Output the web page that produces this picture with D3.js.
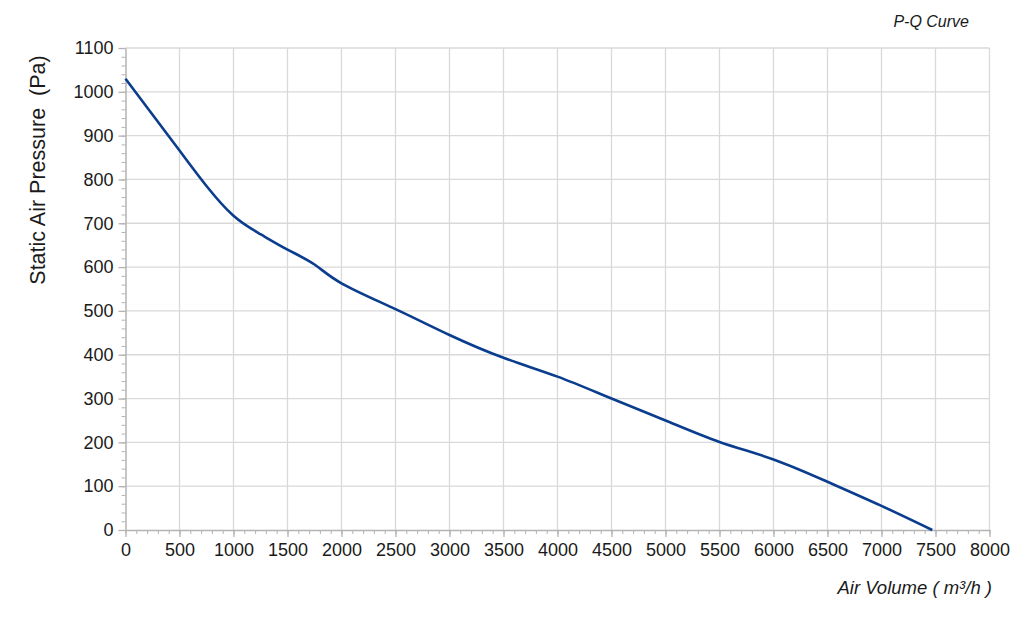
<!DOCTYPE html>
<html>
<head>
<meta charset="utf-8">
<script src="https://cdn.jsdelivr.net/npm/d3@7"></script>
<style>
  body { margin: 0; background: #fff; }
  text { font-family: "Liberation Sans", Arial, sans-serif; fill: #1a1a1a; }
</style>
</head>
<body>
<script>
'use strict';

// air volume (m3/h) and static pressure (Pa)
const airVolume = [0, 500, 750, 1000, 1250, 1500, 1750, 2000, 2500, 3000, 3500, 4000, 4500, 5000, 5500, 6000, 6500, 7000, 7470];
const pressure  = [1030, 866, 785, 717, 675, 640, 606, 563, 504, 445, 393, 350, 300, 250, 201, 161, 110, 55, 0];

const xTicks = d3.range(0, 8001, 500);
const yTicks = d3.range(0, 1101, 100);

const width = 1024, height = 617;
const margin = {left: 125.5, right: 34.5, top: 48, bottom: 87};

let svg = d3.select("body").append("svg")
    .attr("width", width)
    .attr("height", height);

let x = d3.scaleLinear().domain([0, 8000]).range([margin.left, width - margin.right]);
let y = d3.scaleLinear().domain([0, 1100]).range([height - margin.bottom, margin.top]);

// grid
svg.append("g")
  .selectAll("line")
  .data(xTicks.slice(1))
  .enter().append("line")
    .attr("x1", d => x(d)).attr("x2", d => x(d))
    .attr("y1", y(0)).attr("y2", y(1100))
    .attr("stroke", "#d9d9d9").attr("stroke-width", 1.3);

svg.append("g")
  .selectAll("line")
  .data(yTicks.slice(1))
  .enter().append("line")
    .attr("x1", x(0)).attr("x2", x(8000))
    .attr("y1", d => y(d)).attr("y2", d => y(d))
    .attr("stroke", "#d9d9d9").attr("stroke-width", 1.3);

// minor ticks
svg.append("g")
  .attr("transform", "translate(0," + y(0) + ")")
  .call(d3.axisBottom(x).tickValues(d3.range(0, 8001, 100)).tickSize(4).tickFormat(""))
  .call(g => g.select(".domain").remove())
  .call(g => g.selectAll("line").attr("stroke", "#b3b3b3"));

svg.append("g")
  .attr("transform", "translate(" + x(0) + ",0)")
  .call(d3.axisLeft(y).tickValues(d3.range(0, 1101, 20)).tickSize(4).tickFormat(""))
  .call(g => g.select(".domain").remove())
  .call(g => g.selectAll("line").attr("stroke", "#b3b3b3"));

// major axes
let xAxis = svg.append("g")
  .attr("transform", "translate(0," + y(0) + ")")
  .call(d3.axisBottom(x).tickValues(xTicks).tickFormat(d3.format("d")).tickSize(7).tickPadding(6).tickSizeOuter(0));
let yAxis = svg.append("g")
  .attr("transform", "translate(" + x(0) + ",0)")
  .call(d3.axisLeft(y).tickValues(yTicks).tickFormat(d3.format("d")).tickSize(7).tickPadding(5).tickSizeOuter(0));

[xAxis, yAxis].forEach(a => {
  a.select(".domain").attr("stroke", "#b3b3b3").attr("stroke-width", 1.5);
  a.selectAll(".tick line").attr("stroke", "#b3b3b3").attr("stroke-width", 1.3);
  a.selectAll("text").style("font-size", "18px").style("font-family", "'Liberation Sans', Arial, sans-serif").attr("fill", "#1a1a1a");
});

// curve
let pts = airVolume.map((v, i) => [v, pressure[i]]);
svg.append("path")
  .datum(pts)
  .attr("fill", "none")
  .attr("stroke", "#0b3d8e")
  .attr("stroke-width", 2.6)
  .attr("d", d3.line().x(d => x(d[0])).y(d => y(d[1])).curve(d3.curveNatural));

// labels
svg.append("text")
  .attr("transform", "translate(45,170) rotate(-90)")
  .attr("text-anchor", "middle")
  .style("font-size", "21.5px")
  .style("white-space", "pre")
  .text("Static Air Pressure  (Pa)");

svg.append("text")
  .attr("x", 992).attr("y", 594)
  .attr("text-anchor", "end")
  .style("font-size", "18.5px")
  .style("font-style", "italic")
  .style("white-space", "pre")
  .text("Air Volume ( m³/h )");

svg.append("text")
  .attr("x", 969).attr("y", 27)
  .attr("text-anchor", "end")
  .style("font-size", "16px")
  .style("font-style", "italic")
  .text("P-Q Curve");
</script>
</body>
</html>
